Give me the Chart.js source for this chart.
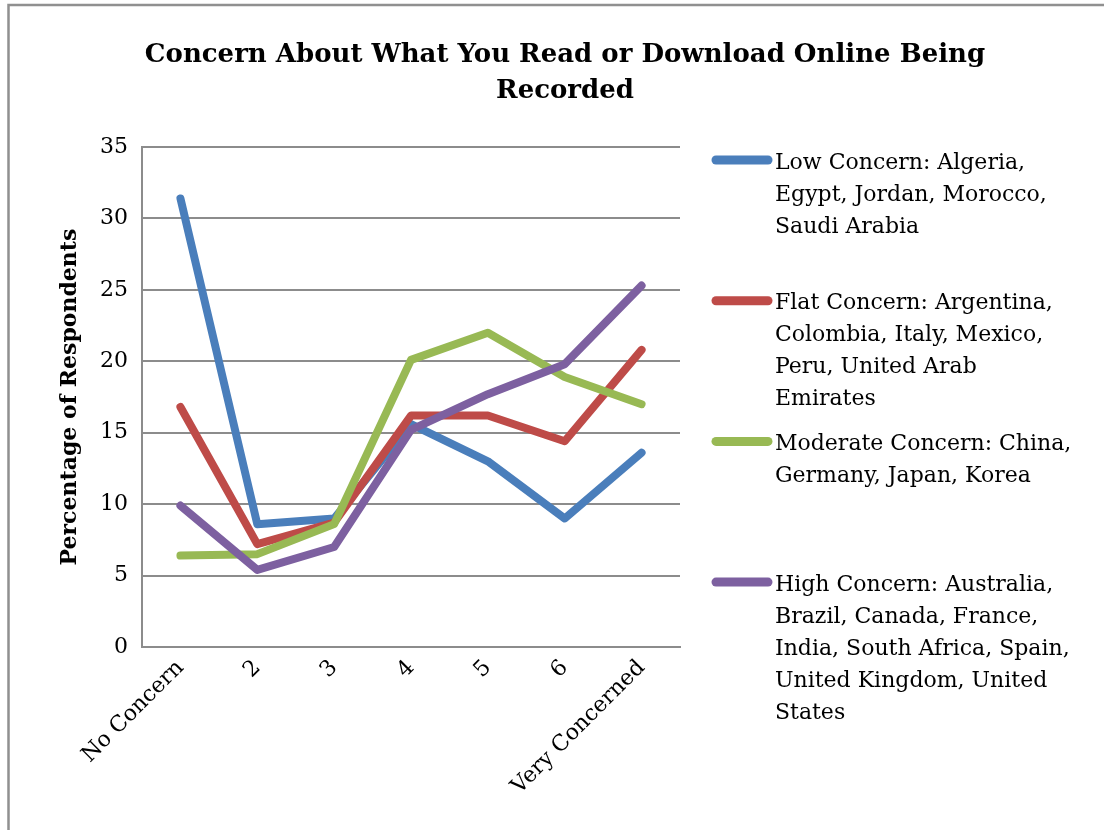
<!DOCTYPE html>
<html lang="en">

<head>
    <meta charset="UTF-8">
    <title>Concern About What You Read or Download Online Being Recorded</title>
    <script src="https://cdn.jsdelivr.net/npm/chart.js"></script>
    <style>
        body { margin: 0; background: #ffffff; }
    </style>
</head>

<body>
    <canvas id="concernChart" width="1104" height="830"></canvas>

    <script>
        // categories on the x axis
        const categories = ['No Concern', '2', '3', '4', '5', '6', 'Very Concerned'];

        // percentage of respondents per group
        const lowConcern = [31.4, 8.6, 9.0, 15.6, 13.0, 9.0, 13.6];
        const flatConcern = [16.8, 7.2, 8.7, 16.2, 16.2, 14.4, 20.8];
        const moderateConcern = [6.4, 6.5, 8.6, 20.1, 22.0, 18.9, 17.0];
        const highConcern = [9.9, 5.4, 7.0, 15.2, 17.7, 19.8, 25.3];

        // legend names, split the way the original wraps them
        const lowLabel = ['Low Concern: Algeria,', 'Egypt, Jordan, Morocco,', 'Saudi Arabia'];
        const flatLabel = ['Flat Concern: Argentina,', 'Colombia, Italy, Mexico,', 'Peru, United Arab', 'Emirates'];
        const moderateLabel = ['Moderate Concern: China,', 'Germany, Japan, Korea'];
        const highLabel = ['High Concern: Australia,', 'Brazil, Canada, France,', 'India, South Africa, Spain,', 'United Kingdom, United', 'States'];

        const yTicks = [0, 5, 10, 15, 20, 25, 30, 35];

        const chartTitle = ['Concern About What You Read or Download Online Being', 'Recorded'];
        const yTitle = 'Percentage of Respondents';

        const serif = "'DejaVu Serif', serif";
        const gridGray = '#8c8c8c';

        // white background + the grey frame of the original picture
        const framePlugin = {
            id: 'frame',
            beforeDraw(chart) {
                const ctx = chart.ctx;
                ctx.save();
                ctx.fillStyle = '#ffffff';
                ctx.fillRect(0, 0, chart.width, chart.height);
                ctx.strokeStyle = '#909090';
                ctx.lineWidth = 2.5;
                ctx.beginPath();
                ctx.moveTo(8.5, chart.height);
                ctx.lineTo(8.5, 5);
                ctx.lineTo(chart.width, 5);
                ctx.stroke();
                ctx.restore();
            }
        };

        // multi-line legend on the right
        const sideLegend = {
            id: 'sideLegend',
            afterDraw(chart) {
                const ctx = chart.ctx;
                const area = chart.chartArea;
                const x0 = area.right + 36;
                ctx.save();
                ctx.font = '22px ' + serif;
                ctx.textBaseline = 'middle';
                ctx.fillStyle = '#000000';
                chart.data.datasets.forEach((ds, i) => {
                    const y = area.top + 13 + i * 140.7;
                    ctx.strokeStyle = ds.borderColor;
                    ctx.lineWidth = 9;
                    ctx.lineCap = 'round';
                    ctx.beginPath();
                    ctx.moveTo(x0, y);
                    ctx.lineTo(x0 + 52, y);
                    ctx.stroke();
                    ds.legendLines.forEach((line, k) => {
                        ctx.fillText(line, x0 + 59, y + 3 + k * 32);
                    });
                });
                ctx.restore();
            }
        };

        function series(lines, values, color, order) {
            return {
                label: lines.join(' '),
                legendLines: lines,
                data: values,
                borderColor: color,
                backgroundColor: color,
                borderWidth: 8,
                borderCapStyle: 'round',
                borderJoinStyle: 'round',
                pointRadius: 0,
                tension: 0,
                order: order
            };
        }

        const ctx = document.getElementById('concernChart').getContext('2d');
        new Chart(ctx, {
            type: 'line',
            data: {
                labels: categories,
                datasets: [
                    series(lowLabel, lowConcern, '#4a7ebb', 4),
                    series(flatLabel, flatConcern, '#be4b48', 3),
                    series(moderateLabel, moderateConcern, '#98b954', 2),
                    series(highLabel, highConcern, '#7d60a0', 1)
                ]
            },
            options: {
                responsive: false,
                animation: false,
                layout: {
                    padding: { left: 26, right: 0, top: 0, bottom: 0 }
                },
                scales: {
                    x: {
                        offset: true,
                        grid: { display: false, drawTicks: false, offset: true },
                        border: { display: true, color: gridGray, width: 2 },
                        ticks: {
                            color: '#000000',
                            font: { family: serif, size: 22 },
                            minRotation: 45,
                            maxRotation: 45,
                            padding: 8,
                            autoSkip: false
                        },
                        afterFit(scale) { scale.height = 183; }
                    },
                    y: {
                        min: yTicks[0],
                        max: yTicks[yTicks.length - 1],
                        grid: { color: gridGray, lineWidth: 2, drawTicks: false },
                        border: { display: true, color: gridGray, width: 2 },
                        ticks: {
                            stepSize: yTicks[1] - yTicks[0],
                            color: '#000000',
                            font: { family: serif, size: 22 },
                            padding: 14
                        },
                        title: {
                            display: true,
                            text: yTitle,
                            color: '#000000',
                            font: { family: serif, size: 22, weight: 'bold' },
                            padding: { top: 31, bottom: 0 }
                        },
                        afterFit(scale) { scale.width = 116; }
                    },
                    legendSpace: {
                        type: 'linear',
                        position: 'right',
                        grid: { display: false, drawTicks: false },
                        border: { display: false },
                        ticks: { display: false },
                        afterFit(scale) { scale.width = 424; }
                    }
                },
                plugins: {
                    legend: { display: false },
                    tooltip: { enabled: false },
                    title: {
                        display: true,
                        text: chartTitle,
                        color: '#000000',
                        font: { family: serif, size: 26, weight: 'bold', lineHeight: 1.385 },
                        padding: { top: 37, bottom: 38 }
                    }
                }
            },
            plugins: [framePlugin, sideLegend]
        });
    </script>
</body>

</html>
